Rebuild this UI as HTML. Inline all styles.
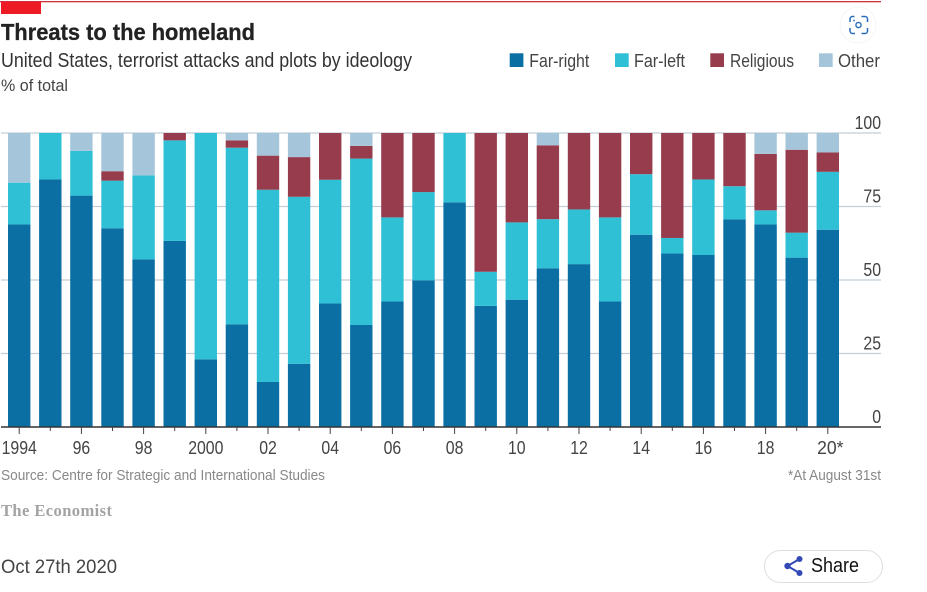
<!DOCTYPE html>
<html lang="en">
<head>
<meta charset="utf-8">
<title>Threats to the homeland</title>
<style>
html,body{margin:0;padding:0;background:#fff;width:927px;height:592px;overflow:hidden}
svg{display:block;font-family:"Liberation Sans",sans-serif}
</style>
</head>
<body>
<svg id="chart" xmlns="http://www.w3.org/2000/svg" width="927" height="592" viewBox="0 0 927 592">
  <rect x="0" y="1" width="881" height="1.3" fill="#d0303e"/>
  <rect x="1" y="2" width="40" height="12" fill="#ed1c24"/>

  <text x="1" y="40" font-size="23.500" font-weight="700" fill="#222" stroke="#222" stroke-width="0.300" textLength="254" lengthAdjust="spacingAndGlyphs">Threats to the homeland</text>
  <text x="1" y="67" font-size="20" fill="#333" textLength="411" lengthAdjust="spacingAndGlyphs">United States, terrorist attacks and plots by ideology</text>
  <text x="1" y="91" font-size="17" fill="#444" textLength="67" lengthAdjust="spacingAndGlyphs">% of total</text>

  <g>
    <circle cx="858" cy="25" r="18" fill="#fff" stroke="#f6f6f6" stroke-width="1"/>
    <path d="M850 22v-3a2.500 2.500 0 0 1 2.500-2.500h2M861.500 16.500h3.500a2.500 2.500 0 0 1 2.500 2.500v3M867.500 28v3a2.500 2.500 0 0 1-2.500 2.500h-3.500M855 33.500h-2.500a2.500 2.500 0 0 1-2.500-2.500v-3" fill="none" stroke="#2a6ebb" stroke-width="1.500"/>
    <circle cx="858.500" cy="25" r="2.600" fill="none" stroke="#2a6ebb" stroke-width="1.400"/>
    <circle cx="854" cy="20.500" r="0.900" fill="#2a6ebb"/>
  </g>

  <g font-size="18" fill="#444">
    <g>
      <rect x="509.700" y="53.300" width="13.700" height="13.700" fill="#0b6fa4"/>
      <text x="529.300" y="67" textLength="60" lengthAdjust="spacingAndGlyphs">Far-right</text>
    </g>
    <g>
      <rect x="615" y="53.300" width="13.700" height="13.700" fill="#2fc0d6"/>
      <text x="634" y="67" textLength="51" lengthAdjust="spacingAndGlyphs">Far-left</text>
    </g>
    <g>
      <rect x="710.300" y="53.300" width="13.700" height="13.700" fill="#963c4c"/>
      <text x="730" y="67" textLength="64" lengthAdjust="spacingAndGlyphs">Religious</text>
    </g>
    <g>
      <rect x="819" y="53.300" width="13.700" height="13.700" fill="#a5c6da"/>
      <text x="838" y="67" textLength="42" lengthAdjust="spacingAndGlyphs">Other</text>
    </g>
  </g>

  <g id="grid"></g>
  <g id="bars"></g>
  <g id="xaxis"></g>
  <g id="yaxis"></g>

  <text x="1" y="480" font-size="15" fill="#888" textLength="324" lengthAdjust="spacingAndGlyphs">Source: Centre for Strategic and International Studies</text>
  <text x="788" y="480" font-size="15" fill="#888" textLength="93" lengthAdjust="spacingAndGlyphs">*At August 31st</text>
  <text x="1" y="516" font-size="16.500" font-weight="700" fill="#a3a3a3" style="font-family:'Liberation Serif',serif" textLength="111" lengthAdjust="spacing">The Economist</text>
  <text x="1" y="573" font-size="19" fill="#444" textLength="116" lengthAdjust="spacingAndGlyphs">Oct 27th 2020</text>

  <g>
    <rect x="764.500" y="550.500" width="118" height="32" rx="16" fill="#fff" stroke="#dcdfe3"/>
    <path d="M799.500 559L787.500 566L799.500 573" fill="none" stroke="#3349b5" stroke-width="2"/>
    <circle cx="799.500" cy="559" r="3" fill="#3349b5"/>
    <circle cx="787.500" cy="566" r="3.200" fill="#3349b5"/>
    <circle cx="799.500" cy="573" r="3" fill="#3349b5"/>
    <text x="811" y="572" font-size="20" fill="#111" textLength="48" lengthAdjust="spacingAndGlyphs">Share</text>
  </g>
</svg>
<script>
const categories = [1994,1995,1996,1997,1998,1999,2000,2001,2002,2003,2004,2005,2006,2007,2008,2009,2010,2011,2012,2013,2014,2015,2016,2017,2018,2019,2020];
const farRight = [68.9,84.2,78.7,67.6,57,63.3,23,34.9,15.3,21.5,42,34.7,42.7,49.9,76.4,41.2,43.3,54,55.4,42.7,65.4,59,58.5,70.6,68.9,57.6,67.1];
const farLeft = [14.2,15.8,15.2,16.2,28.6,34.2,77,60.1,65.4,56.8,42.1,56.6,28.6,30,23.6,11.6,26.3,16.7,18.6,28.6,20.6,5.3,25.7,11.3,4.8,8.5,19.7];
const religious = [0,0,0,3.2,0,2.5,0,2.5,11.6,13.5,15.9,4.3,28.7,20.1,0,47.2,30.4,25.1,26,28.7,14,35.7,15.8,18.1,19.2,28.2,6.6];
const other = [16.9,0,6.1,13,14.4,0,0,2.5,7.7,8.2,0,4.4,0,0,0,0,0,4.2,0,0,0,0,0,0,7.1,5.7,6.6];
const xTickLabels = ['1994','','96','','98','','2000','','02','','04','','06','','08','','10','','12','','14','','16','','18','','20*'];
const yTicks = [0,25,50,75,100];

const NS = 'http://www.w3.org/2000/svg';
const xStart = 19.2, xStep = 31.1, barWidth = 22.4;
const yZero = 427, yScale = 2.94;
const digitWidth = 8.8;
function xPos(i) { return xStart + i * xStep; }
function yPos(v) { return yZero - v * yScale; }
function make(tag, attrs, parent) {
  const el = document.createElementNS(NS, tag);
  for (const k in attrs) el.setAttribute(k, attrs[k]);
  parent.appendChild(el);
  return el;
}

const gridG = document.getElementById('grid');
const yG = document.getElementById('yaxis');
yTicks.forEach(function (t) {
  if (t !== 0) {
    const line = make('line', {x1: 1, x2: 881, y1: yPos(t), y2: yPos(t), stroke: '#c2cdd6', 'stroke-width': 1.3}, gridG);
    
    
  }
  const label = make('text', {x: 881, y: yPos(t) - 4, 'text-anchor': 'end', 'font-size': 18.5, fill: '#444', textLength: String(t).length * digitWidth, lengthAdjust: 'spacingAndGlyphs'}, yG);
  
  
  label.textContent = t;
});

const seriesList = [
  {name: 'far-right', values: farRight, color: '#0b6fa4'},
  {name: 'far-left', values: farLeft, color: '#2fc0d6'},
  {name: 'religious', values: religious, color: '#963c4c'},
  {name: 'other', values: other, color: '#a5c6da'}
];
const barsG = document.getElementById('bars');
categories.forEach(function (year, i) {
  let base = 0;
  seriesList.forEach(function (s) {
    const v = s.values[i];
    if (v > 0) {
      const seg = make('rect', {x: xPos(i) - barWidth / 2, y: yPos(base + v), width: barWidth, height: v * yScale, fill: s.color}, barsG);
      
      
    }
    base += v;
  });
});

const xG = document.getElementById('xaxis');
const axisLine = make('line', {x1: 1, x2: 881, y1: yZero, y2: yZero, stroke: '#333', 'stroke-width': 1.5}, xG);


categories.forEach(function (year, i) {
  const isMajor = xTickLabels[i] !== '';
  const tick = make('line', {x1: xPos(i), x2: xPos(i), y1: yZero, y2: yZero + (isMajor ? 7 : 4), stroke: '#444', 'stroke-width': 1}, xG);
  
  
  if (isMajor) {
    const txt = make('text', {x: xPos(i) + (xTickLabels[i] === '20*' ? 2.5 : 0), y: 454, 'text-anchor': 'middle', 'font-size': 18.5, fill: '#444', textLength: xTickLabels[i].length * digitWidth, lengthAdjust: 'spacingAndGlyphs'}, xG);
    
    
    txt.textContent = xTickLabels[i];
  }
});
</script>
</body>
</html>
